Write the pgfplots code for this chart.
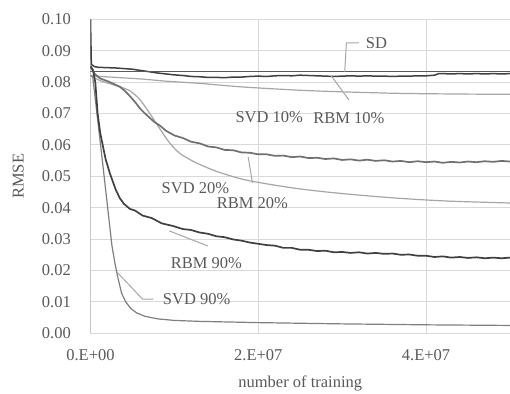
\documentclass[border=0pt]{standalone}
\usepackage{fontspec}
\setmainfont{Liberation Serif}
\usepackage{pgfplots}
\pgfplotsset{compat=1.18}
\definecolor{txt}{HTML}{595959}
\definecolor{gridc}{HTML}{D9D9D9}
\definecolor{axisc}{HTML}{BFBFBF}
\definecolor{dark}{HTML}{404040}
\definecolor{mid}{HTML}{707070}
\definecolor{svdm}{HTML}{7F7F7F}
\definecolor{light}{HTML}{A6A6A6}
\definecolor{sdc}{HTML}{595959}
\newcommand{\lf}{\fontsize{16.5bp}{19bp}\selectfont}
\begin{document}
\begin{tikzpicture}
\path[use as bounding box] (-90.5bp,-60.7bp) rectangle (419.5bp,333.3bp);
\begin{axis}[
  at={(0,0)}, anchor=south west,
  scale only axis, width=419.5bp, height=314bp,
  xmin=0, xmax=50, ymin=0, ymax=0.10,
  axis line style={draw=none},
  major tick length=0pt,
  scaled ticks=false,
  xtick={0,20,40}, xticklabels={0.E+00,2.E+07,4.E+07},
  ytick={0,0.01,0.02,0.03,0.04,0.05,0.06,0.07,0.08,0.09,0.10},
  yticklabels={0.00,0.01,0.02,0.03,0.04,0.05,0.06,0.07,0.08,0.09,0.10},
  grid=major, major grid style={draw=gridc, line width=0.9bp},
  tick label style={font=\lf, text=txt, inner sep=0pt},
  yticklabel style={anchor=east, xshift=-19.5bp},
  xticklabel style={anchor=north, yshift=-16.5bp},
  xlabel={number of training}, ylabel={RMSE},
  label style={font=\lf, text=txt, inner sep=0pt},
  xlabel style={at={(axis description cs:0.5,-0.135)}, anchor=north},
  ylabel style={at={(axis description cs:-0.1585,0.5)}, anchor=south},
]
\draw[axisc, line width=1bp] (axis cs:0,0) -- (axis cs:0,0.10);
% SVD 10%
\addplot[light, line width=1.2bp, smooth] coordinates {(0,0.0820)(3,0.0815)(6,0.0810)(9,0.0803)(13,0.0796)(16,0.0789)(19,0.0783)(25,0.0774)(30,0.0769)(37,0.0764)(44,0.0762)(50,0.0761)};
% SVD 20%
\addplot[light, line width=1.2bp, smooth] coordinates {(0,0.0820)(1.13,0.0805)(2.3,0.0795)(3.5,0.0785)(4.7,0.0772)(5.9,0.0744)(7.07,0.0700)(8.25,0.0652)(9.44,0.0606)(10.6,0.0574)(12,0.0551)(13,0.0538)(14.5,0.0521)(16,0.0507)(18.9,0.0486)(24.9,0.0460)(30.8,0.0443)(36.8,0.0430)(42.7,0.0421)(50,0.0415)};
% SVD 90%
\addplot[svdm, line width=1.2bp] coordinates {(0,0.0822)(0.26,0.0818)(1.2,0.0600)(1.9,0.0435)(2.55,0.0280)(2.9,0.0225)(3.2,0.0185)(3.7,0.0128)(4.2,0.0100)(4.8,0.0079)(5.5,0.0065)(6.5,0.0054)(8,0.0046)(10,0.0041)(13,0.0038)(20,0.0034)(30,0.0030)(40,0.0027)(50,0.0025)};
% RBM 20%
\addplot[mid, line width=1.7bp] coordinates {(0,0.0850)(0.5,0.0826)(1.13,0.0812)(2.3,0.0800)(3.5,0.0785)(4.1,0.0772)(4.7,0.0755)(5.3,0.0737)(5.9,0.0716)(6.5,0.0700)(7.07,0.0686)(7.6,0.0673)(8.25,0.0662)(9,0.0645)(10,0.0630)(11,0.0622)(12,0.0610)(13,0.0605)(14,0.0595)(15,0.0592)(16,0.0584)(17,0.0583)(18,0.0576)(19,0.0575)(20,0.0570)(21,0.0570)(22,0.0565)(23,0.0566)(24,0.0561)(25,0.0563)(26,0.0558)(27,0.0559)(28,0.0555)(29,0.0557)(30,0.0552)(31,0.0554)(32,0.0550)(33,0.0553)(34,0.0549)(35,0.0551)(36,0.0547)(37,0.0549)(38,0.0545)(39,0.0548)(40,0.0545)(41,0.0547)(42,0.0543)(43,0.0546)(44,0.0544)(45,0.0547)(46,0.0545)(47,0.0548)(48,0.0546)(49,0.0549)(50,0.0547)};
% RBM 90%
\addplot[dark, line width=1.7bp] coordinates {(0,0.0850)(0.3,0.0838)(0.57,0.0800)(0.85,0.0700)(1.15,0.0640)(1.45,0.0600)(1.8,0.0555)(2.3,0.0510)(3.0,0.0458)(3.5,0.0430)(4.0,0.0412)(4.7,0.0396)(5.3,0.0391)(6.2,0.0375)(7.3,0.0367)(8.5,0.0350)(9.8,0.0342)(11,0.0332)(12,0.0329)(13,0.0321)(14,0.0317)(15,0.0309)(16,0.0306)(17,0.0299)(18,0.0295)(19,0.0289)(20,0.0285)(21,0.0281)(22,0.0279)(23,0.0272)(24,0.0272)(25,0.0266)(26,0.0266)(27,0.0262)(28,0.0263)(29,0.0258)(30,0.0259)(31,0.0256)(32,0.0258)(33,0.0254)(34,0.0256)(35,0.0253)(36,0.0254)(37,0.0250)(38,0.0251)(39,0.0247)(40,0.0247)(41,0.0243)(42,0.0245)(43,0.0241)(44,0.0243)(45,0.0240)(46,0.0242)(47,0.0239)(48,0.0241)(49,0.0239)(50,0.0241)};
% RBM 10%
\addplot[dark, line width=1.5bp] coordinates {(0,0.1000)(0.1,0.0856)(0.5,0.0849)(1,0.0847)(2,0.0846)(3,0.0845)(4,0.0843)(5,0.0841)(6,0.0837)(7,0.0833)(8,0.0829)(9,0.0826)(10,0.0823)(11,0.0821)(12,0.0818)(13,0.0817)(14,0.0815)(15,0.0815)(16,0.0814)(17,0.0816)(18,0.0816)(19,0.0818)(20,0.0819)(21,0.0818)(22,0.0820)(23,0.0821)(24,0.0820)(25,0.0822)(26,0.0821)(27,0.0820)(28,0.0819)(29,0.0818)(30,0.0819)(31,0.0820)(32,0.0819)(33,0.0820)(34,0.0819)(35,0.0819)(36,0.0818)(37,0.0819)(38,0.0819)(39,0.0820)(40,0.0820)(41,0.0822)(41.5,0.0827)(42,0.0827)(43,0.0826)(44,0.0827)(45,0.0826)(46,0.0827)(47,0.0826)(48,0.0827)(49,0.0826)(50,0.0827)};
% SD
\addplot[sdc, line width=1.2bp] coordinates {(0,0.0833)(50,0.0833)};
% leaders
\draw[light, line width=1bp] (axis cs:30.3,0.0833) -- (axis cs:30.5,0.0925) -- (axis cs:32.0,0.0925);
\draw[light, line width=1bp] (axis cs:28.7,0.0820) -- (axis cs:30.8,0.0743);
\draw[light, line width=1bp] (axis cs:18.8,0.0561) -- (axis cs:19.3,0.0479);
\draw[light, line width=1bp] (axis cs:9.4,0.0326) -- (axis cs:14.0,0.0278);
\draw[light, line width=1bp] (axis cs:3.15,0.0195) -- (axis cs:6.2,0.0109) -- (axis cs:7.5,0.0109);
% labels
\node[font=\lf, text=txt, inner sep=0pt, anchor=west] at (axis cs:32.8,0.0925) {SD};
\node[font=\lf, text=txt, inner sep=0pt] at (axis cs:21.3,0.0689) {SVD 10\%};
\node[font=\lf, text=txt, inner sep=0pt] at (axis cs:30.8,0.0685) {RBM 10\%};
\node[font=\lf, text=txt, inner sep=0pt] at (axis cs:12.5,0.0463) {SVD 20\%};
\node[font=\lf, text=txt, inner sep=0pt] at (axis cs:19.3,0.0415) {RBM 20\%};
\node[font=\lf, text=txt, inner sep=0pt] at (axis cs:13.8,0.0224) {RBM 90\%};
\node[font=\lf, text=txt, inner sep=0pt] at (axis cs:12.65,0.0109) {SVD 90\%};
\end{axis}
\end{tikzpicture}
\end{document}
